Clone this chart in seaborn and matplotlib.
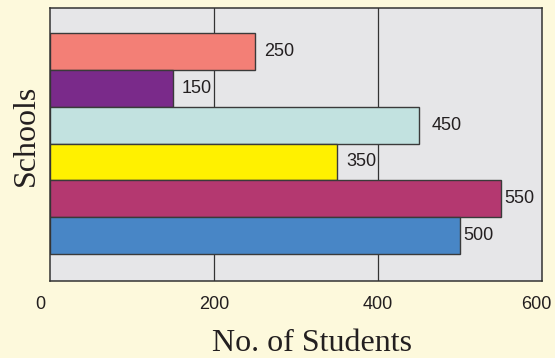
import matplotlib
matplotlib.use("Agg")
import matplotlib.pyplot as plt
import matplotlib.transforms as mtransforms
import seaborn as sns
import pandas as pd

# Students enrolled per school
schools = ["School A", "School B", "School C", "School D", "School E", "School F"]
students = [250, 150, 450, 350, 550, 500]
bar_colors = ["#f37f76", "#7a2a8a", "#c2e2e0", "#fff100", "#b43870", "#4886c6"]
x_ticks = [0, 200, 400, 600]
x_tick_labels = ["0", "200", "400", "600"]

df = pd.DataFrame({"school": schools, "students": students})

sns.set_theme(style="white")
plt.rcParams["font.family"] = ["Liberation Sans", "DejaVu Sans"]

ink = "#231f20"
fig = plt.figure(figsize=(5.55, 3.58), dpi=100, facecolor="#fdf9dc")
ax = fig.add_axes([0.0901, 0.2151, 0.8865, 0.7626])
ax.set_facecolor("#e6e6e8")

# vertical grid lines behind the bars
for gx in [200, 400]:
    ax.axvline(gx, color="#333333", lw=0.9, zorder=0)

sns.barplot(data=df, y="school", x="students", hue="school",
            palette=bar_colors, saturation=1, orient="h", width=1.0,
            legend=False, edgecolor="#3a3a3a", linewidth=1.0, ax=ax, zorder=2)

# value labels beside each bar (padding in points)
pads = [6.5, 6.5, 9.2, 6.5, 2.6, 2.6]
for cont, pad in zip(ax.containers, pads):
    ax.bar_label(cont, fmt="%d", padding=pad, fontsize=13, color=ink)

ax.set_xlim(0, 600)
ax.set_ylim(6.23, -1.18)
ax.set_xticks(x_ticks)
ax.set_xticklabels(x_tick_labels, fontsize=13, color=ink)
ax.tick_params(axis="x", length=0, pad=11)
ax.set_yticks([])

# nudge the end tick labels so they sit inside the figure margins
labels = ax.get_xticklabels()
for lbl, dx in ((labels[0], -10), (labels[-1], -6)):
    lbl.set_transform(lbl.get_transform() +
                      mtransforms.ScaledTranslation(dx / 100, 0, fig.dpi_scale_trans))

ax.set_xlabel("No. of Students", fontsize=23, family="Liberation Serif", color=ink)
ax.set_ylabel("Schools", fontsize=23, family="Liberation Serif", color=ink)
ax.xaxis.set_label_coords(0.532, -0.175)
ax.yaxis.set_label_coords(-0.018, 0.535)

for s in ax.spines.values():
    s.set_color("#333333")
    s.set_linewidth(1.1)
    s.set_zorder(3)

fig.savefig("out.png", dpi=100, facecolor=fig.get_facecolor())
